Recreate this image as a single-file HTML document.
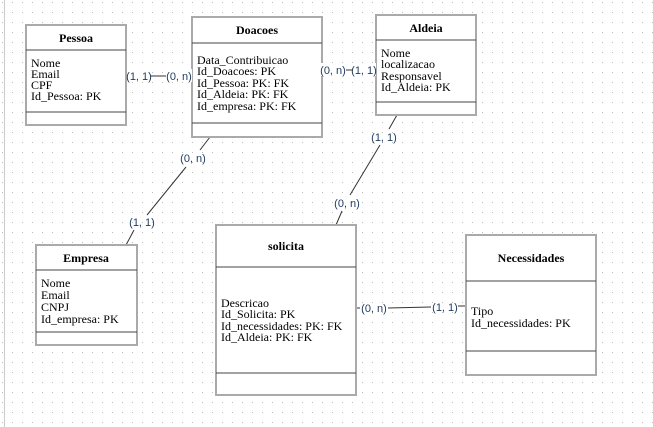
<!DOCTYPE html>
<html><head><meta charset="utf-8"><style>
body{margin:0;width:653px;height:427px;overflow:hidden;background:#fff;}
svg{display:block}
.b{fill:#fff;stroke:#aaa;stroke-width:2}
.d{stroke:#444;stroke-width:1}
.t{font-family:"Liberation Serif",serif;font-size:12px;font-weight:bold;fill:#000;text-anchor:middle}
.a{font-family:"Liberation Serif",serif;font-size:12px;fill:#000}
.l{font-family:"Liberation Sans",sans-serif;font-size:11px;fill:#1e3a5f;text-anchor:middle}
.c{stroke:#333;stroke-width:1;fill:none}
.w{fill:#fff}
</style></head><body>
<svg width="653" height="427" xmlns="http://www.w3.org/2000/svg">
<defs><pattern id="g" width="10" height="10" patternUnits="userSpaceOnUse" x="2" y="2"><rect x="0" y="0" width="1" height="1" fill="#bbb"/></pattern></defs>
<rect width="653" height="427" fill="url(#g)"/>
<line x1="4.5" y1="0" x2="4.5" y2="427" stroke="#ccc" stroke-width="1"/>

<!-- connectors -->
<line class="c" x1="150" y1="76" x2="166" y2="76" stroke-width="2"/>
<line class="c" x1="346" y1="70" x2="353" y2="70"/>
<line class="c" x1="210" y1="137" x2="200" y2="150"/>
<line class="c" x1="186" y1="167" x2="147" y2="215"/>
<line class="c" x1="134" y1="230" x2="126" y2="245"/>
<line class="c" x1="397" y1="115" x2="389" y2="129"/>
<line class="c" x1="380" y1="145" x2="350" y2="195"/>
<line class="c" x1="342" y1="211" x2="336" y2="225"/>
<line class="c" x1="356" y1="308" x2="360" y2="308"/>
<line class="c" x1="388" y1="308" x2="431" y2="307" stroke-width="2"/>
<line class="c" x1="458" y1="306" x2="466" y2="306"/>

<!-- Pessoa -->
<rect class="b" x="26" y="25" width="100" height="100"/>
<line class="d" x1="26" y1="50" x2="126" y2="50"/><line class="d" x1="26" y1="112" x2="126" y2="112"/>
<text class="t" x="76" y="42">Pessoa</text>
<text class="a" x="31" y="67">Nome</text><text class="a" x="31" y="78">Email</text><text class="a" x="31" y="89">CPF</text><text class="a" x="31" y="100">Id_Pessoa: PK</text>

<!-- Doacoes -->
<rect class="b" x="192" y="17" width="130" height="120"/>
<line class="d" x1="192" y1="43" x2="322" y2="43"/><line class="d" x1="192" y1="123" x2="322" y2="123"/>
<text class="t" x="257" y="34">Doacoes</text>
<text class="a" x="197" y="64">Data_Contribuicao</text><text class="a" x="197" y="75">Id_Doacoes: PK</text><text class="a" x="197" y="87">Id_Pessoa: PK: FK</text><text class="a" x="197" y="98">Id_Aldeia: PK: FK</text><text class="a" x="197" y="110">Id_empresa: PK: FK</text>

<!-- Aldeia -->
<rect class="b" x="376" y="15" width="100" height="100"/>
<line class="d" x1="376" y1="40" x2="476" y2="40"/><line class="d" x1="376" y1="102" x2="476" y2="102"/>
<text class="t" x="426" y="32">Aldeia</text>
<text class="a" x="381" y="57">Nome</text><text class="a" x="381" y="68">localizacao</text><text class="a" x="381" y="80">Responsavel</text><text class="a" x="381" y="91">Id_Aldeia: PK</text>

<!-- Empresa -->
<rect class="b" x="36" y="245" width="101" height="100"/>
<line class="d" x1="36" y1="270" x2="137" y2="270"/><line class="d" x1="36" y1="332" x2="137" y2="332"/>
<text class="t" x="86" y="262">Empresa</text>
<text class="a" x="41" y="287">Nome</text><text class="a" x="41" y="299">Email</text><text class="a" x="41" y="311">CNPJ</text><text class="a" x="41" y="323">Id_empresa: PK</text>

<!-- solicita -->
<rect class="b" x="216" y="225" width="140" height="170"/>
<line class="d" x1="216" y1="267" x2="356" y2="267"/><line class="d" x1="216" y1="373" x2="356" y2="373"/>
<text class="t" x="286" y="250">solicita</text>
<text class="a" x="221" y="307">Descricao</text><text class="a" x="221" y="318">Id_Solicita: PK</text><text class="a" x="221" y="330">Id_necessidades: PK: FK</text><text class="a" x="221" y="341">Id_Aldeia: PK: FK</text>

<!-- Necessidades -->
<rect class="b" x="466" y="235" width="130" height="140"/>
<line class="d" x1="466" y1="281" x2="596" y2="281"/><line class="d" x1="466" y1="351" x2="596" y2="351"/>
<text class="t" x="531" y="262">Necessidades</text>
<text class="a" x="471" y="315">Tipo</text><text class="a" x="471" y="327">Id_necessidades: PK</text>

<!-- labels -->
<rect class="w" x="127" y="69" width="23" height="13"/><text class="l" x="139" y="80">(1, 1)</text>
<rect class="w" x="166" y="69" width="26" height="13"/><text class="l" x="179" y="80">(0, n)</text>
<rect class="w" x="320" y="63" width="26" height="13"/><text class="l" x="333" y="74">(0, n)</text>
<rect class="w" x="353" y="63" width="23" height="13"/><text class="l" x="364" y="74">(1, 1)</text>
<text class="l" x="193" y="162">(0, n)</text>
<text class="l" x="142" y="226">(1, 1)</text>
<text class="l" x="384" y="141">(1, 1)</text>
<text class="l" x="347" y="207">(0, n)</text>
<text class="l" x="374" y="312">(0, n)</text>
<text class="l" x="445" y="311">(1, 1)</text>
</svg>
</body></html>
